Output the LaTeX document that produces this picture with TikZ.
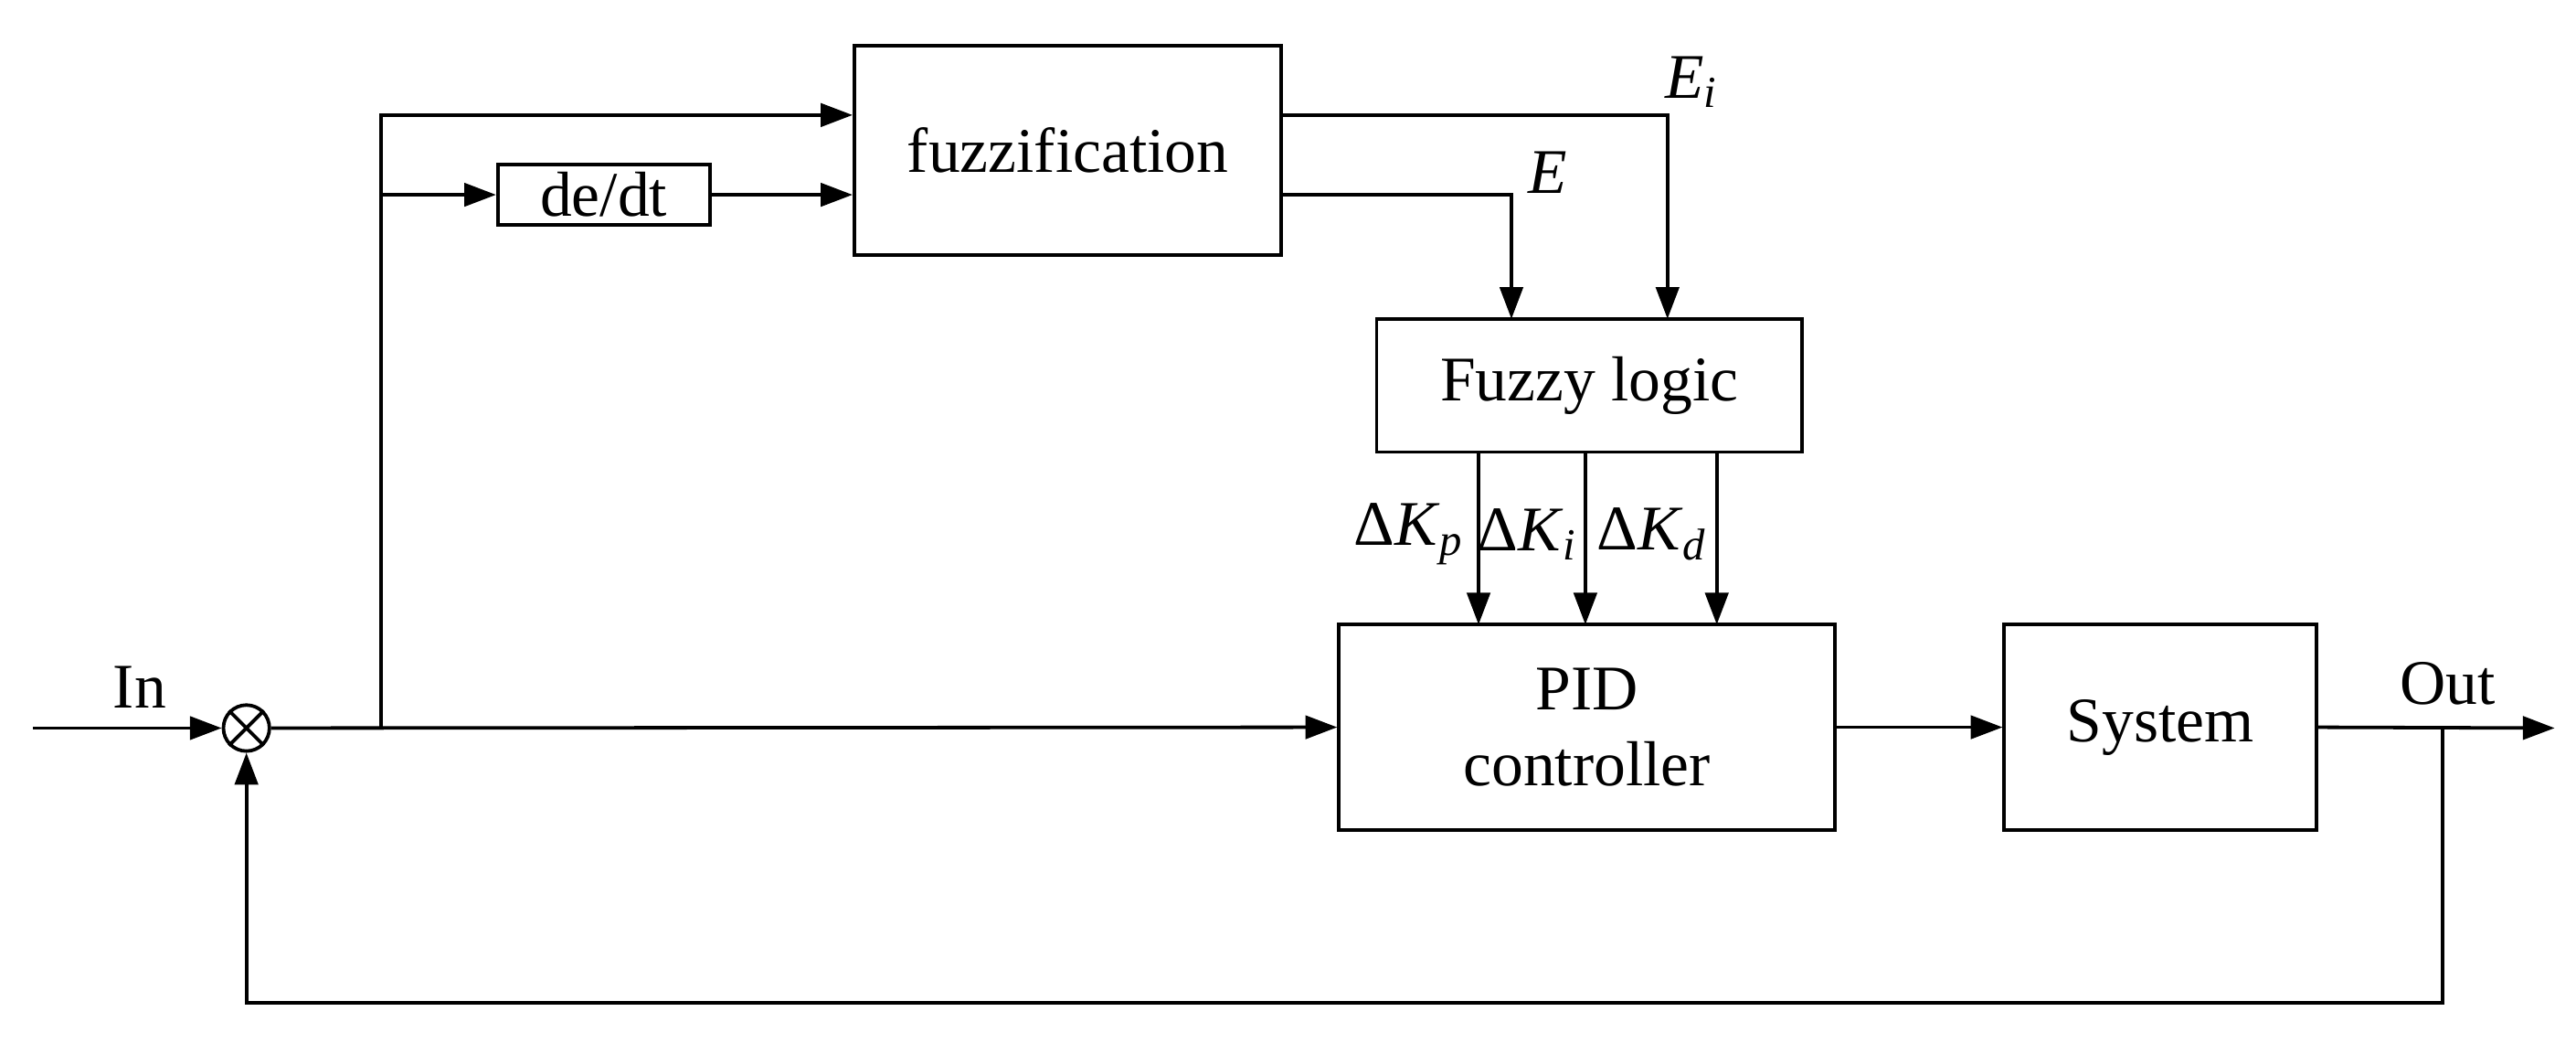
\documentclass[tikz,border=0pt]{standalone}
\usepackage{fontspec}
\setmainfont{Liberation Serif}
\usetikzlibrary{arrows.meta}
\newcommand{\vr}[2]{\textit{#1}\textsubscript{\textit{#2}}}
\begin{document}
\begin{tikzpicture}[x=0.01cm,y=-0.01cm,line width=0.6pt,
  box/.style 2 args={draw,minimum width=#1*0.01cm,minimum height=#2*0.01cm,inner sep=0pt},
  arr/.style={-{Triangle[length=5.5pt,width=4pt]}},
  every node/.style={font=\fontsize{11}{13}\selectfont}]
\useasboundingbox (0,0) rectangle (1568,641);
\node[box={260}{127}] (fz) at (650,91.5) {fuzzification};
\node[box={129}{37}] (dd) at (367.5,118.5) {de/dt};
\node[box={259}{81}] (fl) at (967.5,234.5) {Fuzzy logic};
\node[box={302}{125},align=center] (pid) at (966,442.5) {PID\\controller};
\node[box={190}{125}] (sys) at (1315,442.5) {System};
\node[draw,circle,minimum size=0.28cm,inner sep=0] (sum) at (150,443) {};
\draw (sum.north west)--(sum.south east) (sum.north east)--(sum.south west);
\coordinate (in) at (20,443);
\node at (85,418) {In};
\draw[arr] (in)--(sum);
\coordinate (br) at (232,443);
\draw[arr] (sum)--(pid.west);
\draw[arr] (br)|-(fz.west|-0,70);
\draw[arr] (232,118.5)--(dd.west);
\draw[arr] (dd.east)--(fz.west|-dd.east);
\draw[arr] (fz.east|-0,70)-|(1015,194);
\draw[arr] (fz.east|-0,118.5)-|(920,194);
\node at (1030,50) {\vr{E}{i}};
\node at (942,105) {\textit{E}};
\draw[arr] (900,275)--(900,380);
\draw[arr] (965,275)--(965,380);
\draw[arr] (1045,275)--(1045,380);
\node[inner sep=0] at (858,325) {Δ\vr{K}{p}};
\node[inner sep=0] at (930,325) {Δ\vr{K}{i}};
\node[inner sep=0] at (1006,325) {Δ\vr{K}{d}};
\draw[arr] (pid.east)--(sys.west);
\coordinate (out) at (1555,443);
\draw[arr] (sys.east)--(out);
\node at (1490,416) {Out};
\draw[arr] (1487,443)--(1487,610)-|(sum.south);
\end{tikzpicture}
\end{document}
